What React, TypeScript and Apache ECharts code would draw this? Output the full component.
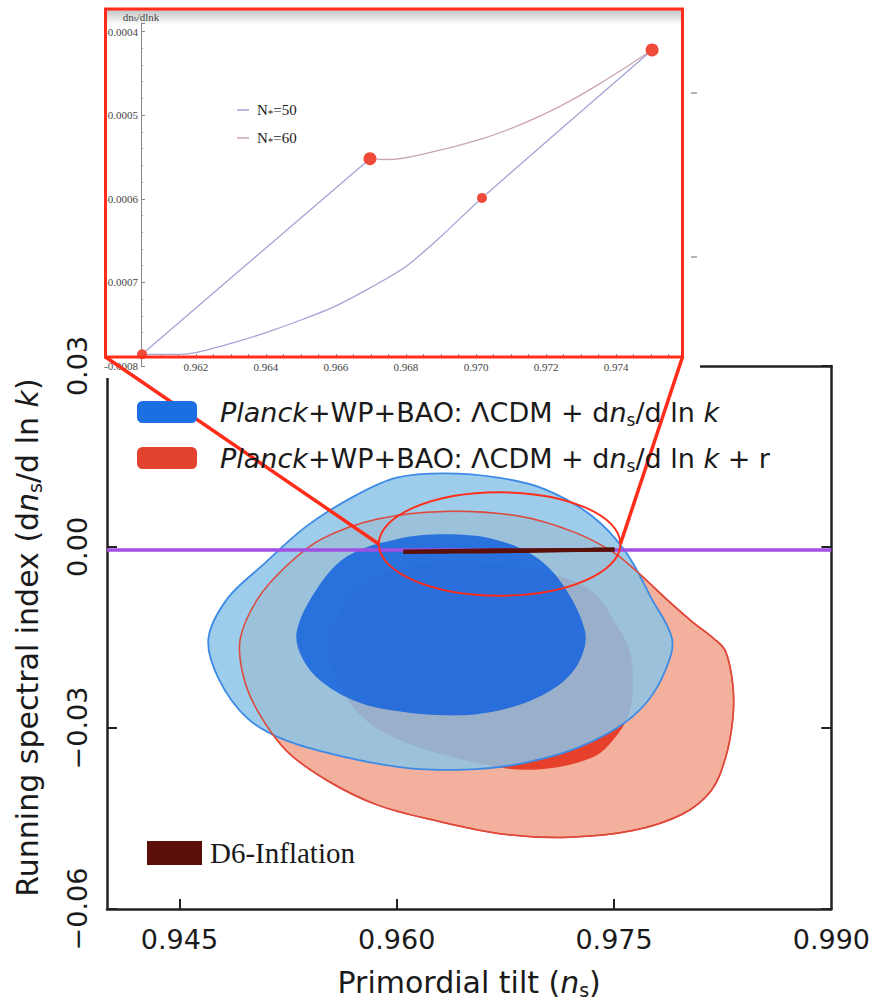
import React, { useEffect, useRef } from "react";
import * as echarts from "echarts";

// ---------- main panel data ----------
const X_RANGE = [0.94, 0.99];
const Y_RANGE = [-0.06, 0.03];
const X_TICKS = [0.945, 0.96, 0.975, 0.99];
const X_INNER_TICKS = [0.945, 0.96, 0.975];

const BLUE_NAME = "Planck+WP+BAO: ΛCDM + dn_s/d ln k";
const RED_NAME = "Planck+WP+BAO: ΛCDM + dn_s/d ln k + r";
const D6_NAME = "D6-Inflation";

// 95% / 68% contours (n_s, dn_s/dlnk)
const BLUE_OUTER: number[][] = [
  [0.96, 0.0115], [0.9633, 0.0122], [0.967, 0.0115], [0.9702, 0.0096], [0.9735, 0.0051],
  [0.9758, -0.0008], [0.9776, -0.0086], [0.979, -0.0152], [0.9786, -0.0201], [0.9773, -0.0256],
  [0.9752, -0.03], [0.9719, -0.0338], [0.9681, -0.0361], [0.9647, -0.0369], [0.9606, -0.0366],
  [0.9566, -0.0349], [0.9524, -0.0321], [0.9497, -0.0284], [0.9477, -0.0218], [0.947, -0.0152],
  [0.9483, -0.0086], [0.9507, -0.0031], [0.9538, 0.0035], [0.9572, 0.0086],
];
const BLUE_INNER: number[][] = [
  [0.96, 0.0013], [0.9633, 0.0021], [0.9667, 0.0013], [0.9695, -0.0015], [0.9715, -0.0064],
  [0.973, -0.014], [0.9727, -0.0185], [0.9715, -0.0223], [0.9691, -0.0256], [0.9661, -0.0275],
  [0.9633, -0.0279], [0.96, -0.0272], [0.9572, -0.0256], [0.9548, -0.0223], [0.9535, -0.0185],
  [0.9531, -0.014], [0.9545, -0.0069], [0.9566, -0.0015],
];
const RED_OUTER: number[][] = [
  [0.9586, 0.0046], [0.9633, 0.0059], [0.9685, 0.0051], [0.9722, 0.0025], [0.9749, -0.0008],
  [0.9766, -0.0041], [0.9786, -0.0086], [0.9804, -0.0124], [0.9819, -0.0152], [0.9827, -0.0173],
  [0.9832, -0.0229], [0.9832, -0.0284], [0.9827, -0.0349], [0.9817, -0.0404], [0.9797, -0.0443],
  [0.9763, -0.047], [0.9719, -0.0481], [0.9674, -0.0476], [0.9626, -0.0453], [0.9586, -0.0427],
  [0.9552, -0.0387], [0.9524, -0.0338], [0.9504, -0.0272], [0.9494, -0.0213], [0.9492, -0.0152],
  [0.9504, -0.0086], [0.9524, -0.0031], [0.9548, 0.0013],
];
const RED_INNER: number[][] = [
  [0.96, -0.0036], [0.9633, -0.0025], [0.9667, -0.0028], [0.9702, -0.0041], [0.9735, -0.0074],
  [0.9752, -0.013], [0.9761, -0.0173], [0.9763, -0.0229], [0.9761, -0.0272], [0.9752, -0.0312],
  [0.9735, -0.0349], [0.9695, -0.0369], [0.9655, -0.0358], [0.9599, -0.0317], [0.9572, -0.0272],
  [0.9555, -0.0201], [0.9552, -0.0152], [0.9559, -0.0114], [0.9572, -0.0069],
];
const PURPLE_LINE: number[][] = [[0.94, -0.0005], [0.99, -0.0005]];
const ZOOM_CENTER = [0.9671, 0.0005];
const ZOOM_RADII = [0.00834, 0.00857];

// ---------- inset data (D6-inflation predictions) ----------
const INSET_X_RANGE = [0.96043, 0.97577];
const INSET_Y_RANGE = [-0.0008, -0.00039];
const INSET_X_LABELS = [0.962, 0.964, 0.966, 0.968, 0.97, 0.972, 0.974];
const INSET_X_TICKS = [
  0.9605, 0.961, 0.9615, 0.962, 0.9625, 0.963, 0.9635, 0.964, 0.9645, 0.965, 0.9655, 0.966,
  0.9665, 0.967, 0.9675, 0.968, 0.9685, 0.969, 0.9695, 0.97, 0.9705, 0.971, 0.9715, 0.972,
  0.9725, 0.973, 0.9735, 0.974, 0.9745, 0.975, 0.9755,
];
const N50_NAME = "N*=50";
const N60_NAME = "N*=60";
const N50_STRAIGHT: number[][] = [[0.96046, -0.000786], [0.96697, -0.000552]];
const N50_LOWER: number[][] = [
  [0.96046, -0.000786], [0.9615, -0.000786], [0.962, -0.000784], [0.963, -0.000773],
  [0.964, -0.00076], [0.965, -0.000745], [0.966, -0.000728], [0.967, -0.000706],
  [0.968, -0.000681], [0.969, -0.000645], [0.97017, -0.000599], [0.97503, -0.000422],
];
const N60_UPPER: number[][] = [
  [0.96697, -0.000552], [0.96746, -0.000553], [0.96855, -0.000546], [0.97019, -0.000528],
  [0.97129, -0.000511], [0.97237, -0.00049], [0.97347, -0.000464], [0.97503, -0.000422],
];
const INSET_DOTS: number[][] = [
  [0.96046, -0.000786], [0.96697, -0.000552], [0.97017, -0.000599], [0.97503, -0.000422],
];
const DOT_SIZES = [10, 13, 10, 13];

const SANS = "DejaVu Sans";
const SERIF = "Liberation Serif";
const INK = "#1a1a1a";
const RED = "#ff2d1a";

const mkRich = (size: number, lh: number) => ({
  it: { fontStyle: "italic", fontFamily: SANS, fontSize: size, color: INK, lineHeight: lh },
  sub: {
    fontFamily: SANS,
    fontSize: Math.round(size * 0.63),
    color: INK,
    verticalAlign: "bottom",
    lineHeight: Math.round(lh / 2),
  },
});

const polySeries = (name: string | undefined, pts: number[][], fill: string, stroke: string, lw: number, z: number) => ({
  type: "custom",
  name,
  xAxisIndex: 0,
  yAxisIndex: 0,
  coordinateSystem: "cartesian2d",
  z,
  silent: true,
  data: pts,
  encode: { x: 0, y: 1 },
  renderItem: (params: any, api: any) => {
    if (params.dataIndex !== 0) return null;
    const points = pts.map((p) => api.coord(p));
    return {
      type: "polygon",
      shape: { points, smooth: 0.35 },
      style: { fill, stroke, lineWidth: lw },
    };
  },
});

const insetLine = (name: string, data: number[][], color: string, smooth: number | boolean) => ({
  type: "line",
  name,
  xAxisIndex: 2,
  yAxisIndex: 2,
  data,
  smooth,
  symbol: "none",
  z: 12,
  lineStyle: { color, width: 1.3 },
  itemStyle: { color },
});

const d6Line = (data: number[][]) => ({
  type: "line",
  name: D6_NAME,
  xAxisIndex: 0,
  yAxisIndex: 0,
  data,
  symbol: "none",
  z: 7,
  lineStyle: { color: "#5a1008", width: 4 },
  itemStyle: { color: "#5a1008" },
});

const yLabel = (v: number) => {
  if (Math.abs(v) < 1e-9) return "0.00";
  return (v < 0 ? "−" : "") + Math.abs(v).toFixed(2);
};

const buildGraphic = (L?: number[], R?: number[]) => {
  const els: any[] = [
    { type: "rect", id: "cover", shape: { x: 98, y: 0, width: 602, height: 378 }, style: { fill: "#fff" }, z: 9, silent: true },
    {
      type: "rect",
      id: "band",
      shape: { x: 107, y: 10, width: 574, height: 15 },
      style: {
        fill: new echarts.graphic.LinearGradient(0, 0, 0, 1, [
          { offset: 0, color: "#c4c4c4" },
          { offset: 1, color: "#ffffff" },
        ]),
      },
      z: 10,
      silent: true,
    },
    { type: "rect", id: "frame", shape: { x: 105.5, y: 9, width: 577, height: 348 }, style: { fill: "none", stroke: RED, lineWidth: 3 }, z: 13, silent: true },
    { type: "line", id: "m1", shape: { x1: 691, y1: 93, x2: 697, y2: 93 }, style: { stroke: "#999", lineWidth: 1.5 }, z: 10 },
    { type: "line", id: "m2", shape: { x1: 691, y1: 257, x2: 697, y2: 257 }, style: { stroke: "#999", lineWidth: 1.5 }, z: 10 },
  ];
  if (L && R) {
    els.push(
      { type: "line", id: "c1", shape: { x1: 105.5, y1: 357, x2: L[0], y2: L[1] }, style: { stroke: RED, lineWidth: 3.5 }, z: 14, silent: true },
      { type: "line", id: "c2", shape: { x1: 682.5, y1: 357, x2: R[0], y2: R[1] }, style: { stroke: RED, lineWidth: 3.5 }, z: 14, silent: true }
    );
  }
  return els;
};

const frameLine = { show: true, onZero: false, lineStyle: { color: "#222", width: 2.5 } };

const option: any = {
  animation: false,
  backgroundColor: "#fff",
  grid: [
    { left: 107, top: 366, width: 731, height: 546 },
    { left: 141, top: 23.2, width: 537, height: 342.8 },
  ],
  legend: [
    {
      orient: "vertical",
      left: 132,
      top: 391,
      itemWidth: 60,
      itemHeight: 22,
      itemGap: 14,
      icon: "roundRect",
      z: 15,
      selectedMode: false,
      data: [
        { name: BLUE_NAME, itemStyle: { color: "#1b6fe0" } },
        { name: RED_NAME, itemStyle: { color: "#e2432f" } },
      ],
      formatter: (name: string) =>
        name === BLUE_NAME
          ? "{it|Planck}+WP+BAO: ΛCDM + d{it|n}{sub|s}/d ln {it|k}"
          : "{it|Planck}+WP+BAO: ΛCDM + d{it|n}{sub|s}/d ln {it|k} + r",
      textStyle: {
        fontFamily: SANS,
        fontSize: 27,
        color: INK,
        lineHeight: 32,
        padding: [0, 0, 0, 18],
        rich: mkRich(27, 32),
      },
    },
    {
      orient: "vertical",
      left: 142,
      top: 833,
      itemWidth: 55,
      itemHeight: 24,
      icon: "rect",
      z: 15,
      selectedMode: false,
      data: [{ name: D6_NAME, itemStyle: { color: "#5a1008" } }],
      textStyle: { fontFamily: SERIF, fontSize: 29, color: INK, lineHeight: 30, padding: [0, 0, 0, 3] },
    },
    {
      orient: "vertical",
      left: 232,
      top: 97,
      itemWidth: 12,
      itemHeight: 1.5,
      itemGap: 12,
      icon: "rect",
      z: 15,
      selectedMode: false,
      data: [
        { name: N50_NAME, itemStyle: { color: "#a4a4d4" } },
        { name: N60_NAME, itemStyle: { color: "#cba3b6" } },
      ],
      formatter: (name: string) => name.replace("*", "{ss|*}"),
      textStyle: {
        fontFamily: SERIF,
        fontSize: 15,
        color: INK,
        lineHeight: 16,
        padding: [0, 0, 0, 3],
        rich: { ss: { fontFamily: SERIF, fontSize: 11, color: INK, verticalAlign: "bottom", lineHeight: 9 } },
      },
    },
  ],
  xAxis: [
    {
      gridIndex: 0,
      type: "value",
      position: "bottom",
      min: X_RANGE[0],
      max: X_RANGE[1],
      axisLine: frameLine,
      axisTick: { show: true, inside: true, length: 10, customValues: X_INNER_TICKS, lineStyle: { color: "#222", width: 2 } },
      axisLabel: {
        customValues: X_TICKS,
        formatter: (v: number) => v.toFixed(3),
        fontFamily: SANS,
        fontSize: 27,
        color: INK,
        margin: 17,
      },
      splitLine: { show: false },
      name: "Primordial tilt ({it|n}{sub|s})",
      nameLocation: "middle",
      nameGap: 56,
      nameTextStyle: { fontFamily: SANS, fontSize: 30, color: INK, lineHeight: 34, rich: mkRich(30, 34) },
    },
    {
      gridIndex: 0,
      type: "value",
      position: "top",
      min: X_RANGE[0],
      max: X_RANGE[1],
      axisLine: frameLine,
      axisTick: { show: false },
      axisLabel: { show: false },
      splitLine: { show: false },
    },
    {
      gridIndex: 1,
      type: "value",
      position: "bottom",
      min: INSET_X_RANGE[0],
      max: INSET_X_RANGE[1],
      offset: -9,
      z: 11,
      axisLine: { show: true, onZero: false, lineStyle: { color: "#888", width: 1 } },
      axisTick: { show: true, inside: true, length: 3, customValues: INSET_X_TICKS, lineStyle: { color: "#888" } },
      axisLabel: {
        customValues: INSET_X_LABELS,
        formatter: (v: number) => v.toFixed(3),
        fontFamily: SERIF,
        fontSize: 11,
        color: "#444",
        margin: 4,
      },
      splitLine: { show: false },
    },
  ],
  yAxis: [
    {
      gridIndex: 0,
      type: "value",
      position: "left",
      min: Y_RANGE[0],
      max: Y_RANGE[1],
      interval: 0.03,
      axisLine: frameLine,
      axisTick: { show: true, inside: true, length: 10, lineStyle: { color: "#222", width: 2 } },
      axisLabel: { rotate: 90, formatter: yLabel, fontFamily: SANS, fontSize: 27, color: INK, margin: 16 },
      splitLine: { show: false },
      name: "Running spectral index (d{it|n}{sub|s}/d ln {it|k})",
      nameLocation: "middle",
      nameRotate: 90,
      nameGap: 63,
      nameTextStyle: { fontFamily: SANS, fontSize: 30, color: INK, lineHeight: 34, rich: mkRich(30, 34) },
    },
    {
      gridIndex: 0,
      type: "value",
      position: "right",
      min: Y_RANGE[0],
      max: Y_RANGE[1],
      interval: 0.03,
      axisLine: frameLine,
      axisTick: { show: true, inside: true, length: 10, lineStyle: { color: "#222", width: 2 } },
      axisLabel: { show: false },
      splitLine: { show: false },
    },
    {
      gridIndex: 1,
      type: "value",
      position: "left",
      min: INSET_Y_RANGE[0],
      max: INSET_Y_RANGE[1],
      interval: 0.0001,
      z: 11,
      axisLine: { show: true, onZero: false, lineStyle: { color: "#888", width: 1 } },
      axisTick: { show: true, inside: true, length: 4, lineStyle: { color: "#888" } },
      minorTick: { show: true, splitNumber: 5, length: 2, lineStyle: { color: "#999" } },
      axisLabel: {
        formatter: (v: number) => v.toFixed(4),
        fontFamily: SERIF,
        fontSize: 11,
        color: "#444",
        margin: 3,
      },
      splitLine: { show: false },
      name: "dn{s|s}/dlnk",
      nameLocation: "end",
      nameGap: 1,
      nameTextStyle: {
        fontFamily: SERIF,
        fontSize: 11,
        color: "#444",
        rich: { s: { fontFamily: SERIF, fontSize: 8, color: "#444", verticalAlign: "bottom", lineHeight: 8 } },
      },
    },
  ],
  series: [
    polySeries(RED_NAME, RED_OUTER, "#f3b19d", "#e04a3c", 1.5, 1),
    polySeries(RED_NAME, RED_INNER, "#e6402a", "none", 0, 2),
    polySeries(BLUE_NAME, BLUE_OUTER, "rgba(140,196,230,0.85)", "#3d8ae6", 1.8, 3),
    polySeries(BLUE_NAME, BLUE_INNER, "rgba(13,94,221,0.8)", "none", 0, 4),
    polySeries(RED_NAME, RED_OUTER, "none", "#e0483a", 1.5, 5),
    {
      type: "line",
      xAxisIndex: 0,
      yAxisIndex: 0,
      data: PURPLE_LINE,
      symbol: "none",
      z: 6,
      lineStyle: { color: "#a24fe3", width: 3.5 },
    },
    d6Line(N50_STRAIGHT),
    d6Line(N50_LOWER),
    d6Line(N60_UPPER),
    {
      type: "custom",
      xAxisIndex: 0,
      yAxisIndex: 0,
      coordinateSystem: "cartesian2d",
      z: 8,
      silent: true,
      data: [ZOOM_CENTER],
      renderItem: (params: any, api: any) => {
        const c = api.coord(ZOOM_CENTER);
        const s = api.size(ZOOM_RADII);
        return {
          type: "ellipse",
          shape: { cx: c[0], cy: c[1], rx: s[0], ry: s[1] },
          style: { fill: "none", stroke: RED, lineWidth: 2 },
        };
      },
    },
    insetLine(N50_NAME, N50_STRAIGHT, "#a4a4d4", false),
    insetLine(N50_NAME, N50_LOWER, "#a4a4d4", 0.25),
    insetLine(N60_NAME, N60_UPPER, "#cba3b6", 0.4),
    {
      type: "scatter",
      xAxisIndex: 2,
      yAxisIndex: 2,
      data: INSET_DOTS,
      z: 12,
      symbolSize: (v: any, p: any) => DOT_SIZES[p.dataIndex],
      itemStyle: { color: "#f04a3a", opacity: 1 },
    },
  ],
  graphic: buildGraphic(),
};

export default function App() {
  const ref = useRef<HTMLDivElement>(null);
  useEffect(() => {
    document.body.style.margin = "0";
    const chart = echarts.init(ref.current!, null, { renderer: "svg" });
    chart.setOption(option);
    const finder = { xAxisIndex: 0, yAxisIndex: 0 };
    const L = chart.convertToPixel(finder as any, [ZOOM_CENTER[0] - ZOOM_RADII[0], ZOOM_CENTER[1]]) as number[];
    const R = chart.convertToPixel(finder as any, [ZOOM_CENTER[0] + ZOOM_RADII[0], ZOOM_CENTER[1]]) as number[];
    chart.setOption({ graphic: buildGraphic(L, R) }, { replaceMerge: ["graphic"] } as any);
    return () => chart.dispose();
  }, []);
  return <div ref={ref} style={{ width: 873, height: 1004 }} />;
}
